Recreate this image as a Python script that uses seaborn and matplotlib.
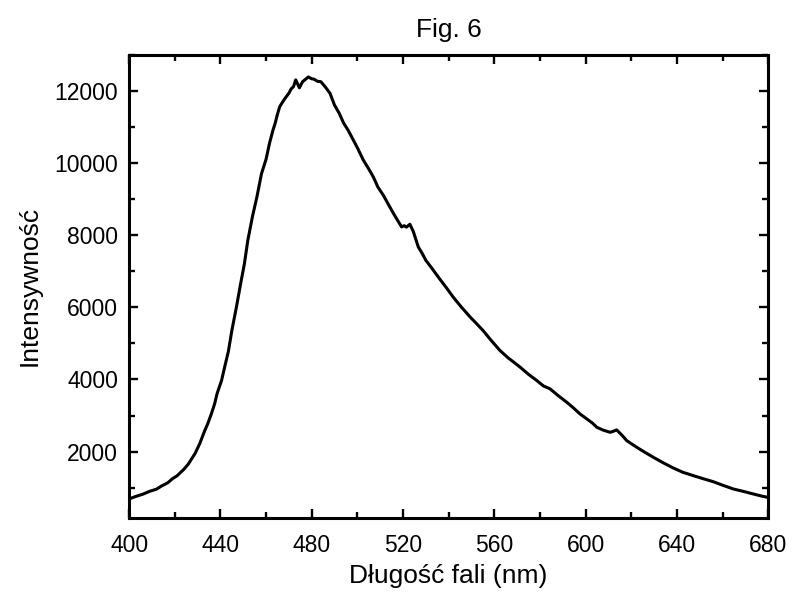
import matplotlib
matplotlib.use("Agg")
import matplotlib.pyplot as plt
from matplotlib.ticker import MultipleLocator
import seaborn as sns
import pandas as pd

# Emission spectrum
wavelength_nm = [400, 403, 406, 409, 412, 414, 417, 419, 421, 424, 426, 429, 431, 433,
                 434.5, 436, 437.5, 438.5, 440.5, 442, 443.5, 445, 447, 449, 450.5, 452,
                 454, 456, 458, 460, 461.5, 463, 464, 465, 466, 468, 470, 471, 472, 473,
                 474.6, 476, 477, 478.5, 480, 481, 482.5, 484, 486, 488, 490, 492, 494,
                 496, 497.5, 500, 502.6, 505, 507, 509, 511.4, 513.5, 515.8, 517.5, 519.4,
                 520.5, 521.5, 523, 524.5, 526.7, 528.5, 530, 533, 536, 539, 542, 545.5,
                 549.4, 552, 555, 558.5, 562.5, 566, 568.5, 571.3, 575, 578.6, 581.5,
                 584.4, 588, 591.7, 594.5, 597.5, 600.5, 603, 604.9, 607.5, 610.7, 612,
                 613.6, 616, 618, 620, 622.4, 626, 629.7, 634, 638.4, 642.5, 647.2, 651.5,
                 655.9, 660, 664.7, 669, 673.5, 677, 680]
intensity = [690, 760, 820, 900, 960, 1040, 1140, 1250, 1330, 1510, 1660, 1960, 2230, 2560,
             2780, 3040, 3330, 3600, 3970, 4380, 4780, 5350, 6000, 6700, 7200, 7850,
             8500, 9060, 9700, 10100, 10540, 10900, 11100, 11350, 11560, 11760, 11930,
             12050, 12110, 12300, 12080, 12250, 12300, 12380, 12330, 12320, 12260, 12250,
             12100, 11930, 11600, 11380, 11100, 10900, 10720, 10420, 10080, 9830, 9610,
             9330, 9100, 8860, 8600, 8420, 8225, 8260, 8220, 8300, 8100, 7670, 7480,
             7300, 7050, 6790, 6540, 6280, 6010, 5730, 5560, 5360, 5090, 4800, 4600, 4480,
             4340, 4140, 3970, 3820, 3740, 3550, 3370, 3220, 3046, 2907, 2790, 2675,
             2600, 2536, 2560, 2602, 2450, 2305, 2220, 2120, 1980, 1842, 1690, 1547,
             1430, 1334, 1250, 1167, 1070, 965, 900, 826, 770, 730]

x_ticks = [400, 440, 480, 520, 560, 600, 640, 680]
y_ticks = [2000, 4000, 6000, 8000, 10000, 12000]
title_text = "Fig. 6"
x_label = "Długość fali (nm)"
y_label = "Intensywność"

df = pd.DataFrame({"wl": wavelength_nm, "I": intensity})

sns.set_theme(style="ticks")
plt.rcParams["font.family"] = ["Liberation Sans", "DejaVu Sans"]
plt.rcParams["text.color"] = "black"
plt.rcParams["axes.labelcolor"] = "black"

fig = plt.figure(figsize=(7.92, 6.00), dpi=100)
ax = fig.add_axes([0.163, 0.136, 0.807, 0.773])

sns.lineplot(data=df, x="wl", y="I", color="black", linewidth=2.2, ax=ax, sort=False)

ax.set_xlim(400, 680)
ax.set_ylim(150, 13000)
ax.set_xticks(x_ticks)
ax.set_yticks(y_ticks)
ax.xaxis.set_minor_locator(MultipleLocator(20))
ax.yaxis.set_minor_locator(MultipleLocator(1000))

for s in ax.spines.values():
    s.set_visible(True)
    s.set_linewidth(2.2)
    s.set_color("black")

ax.tick_params(which="both", direction="in", top=True, right=True, color="black",
               width=1.7, labelsize=16.5, labelcolor="black")
ax.tick_params(which="major", length=6.5)
ax.tick_params(which="minor", length=4)
ax.tick_params(axis="x", which="major", pad=11)
ax.tick_params(axis="y", which="major", pad=8)

ax.set_xlabel(x_label, fontsize=19, labelpad=5, color="black")
ax.set_ylabel(y_label, fontsize=19, labelpad=9, color="black")
ax.set_title(title_text, fontsize=19, pad=13, color="black")

fig.savefig("out.png", dpi=100)
